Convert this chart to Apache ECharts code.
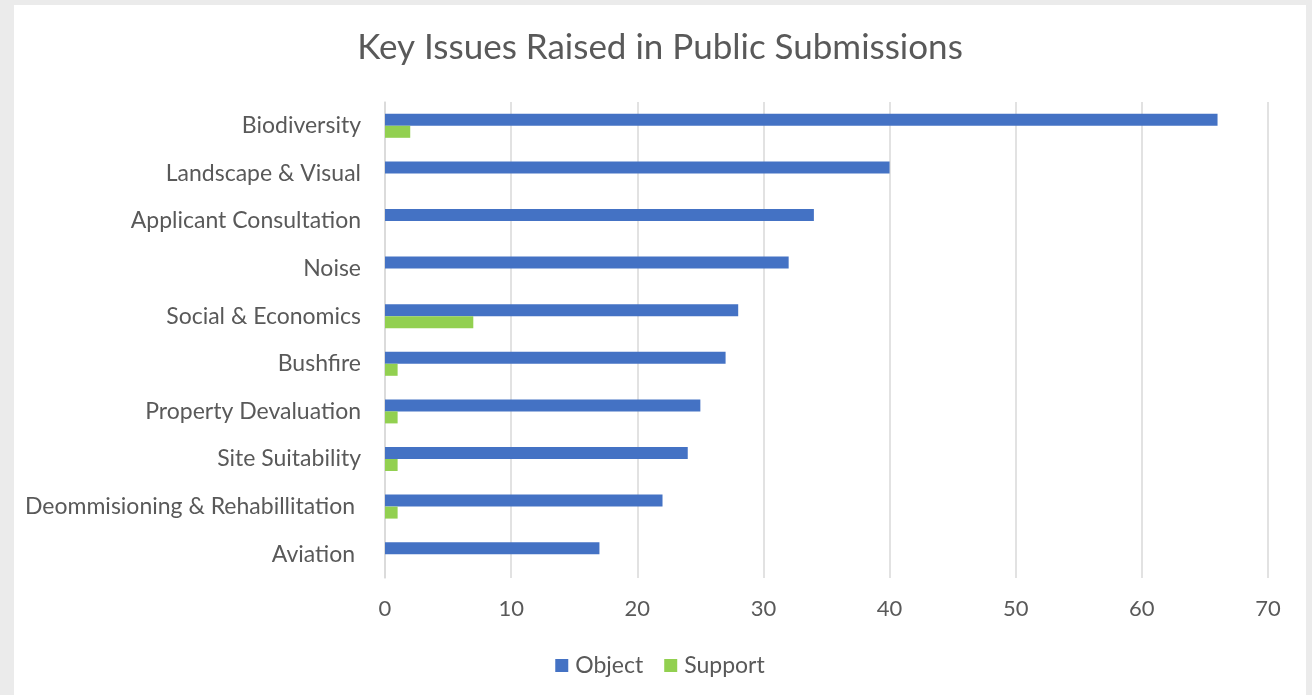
<!DOCTYPE html>
<html>
<head>
<meta charset="utf-8">
<script src="https://cdn.jsdelivr.net/npm/echarts@6/dist/echarts.min.js"></script>
<style>
html,body{margin:0;padding:0;background:#ebebeb;width:1312px;height:695px;overflow:hidden;}
#chart{position:absolute;left:14px;top:5px;width:1292px;height:690px;background:#ffffff;}
</style>
</head>
<body>
<div id="chart"></div>
<script>
const categories = ["Biodiversity","Landscape & Visual","Applicant Consultation","Noise","Social & Economics","Bushfire","Property Devaluation","Site Suitability","Deommisioning & Rehabillitation ","Aviation "];
const objectValues = [66,40,34,32,28,27,25,24,22,17];
const supportValues = [2,0,0,0,7,1,1,1,1,0];
const xTicks = [0,10,20,30,40,50,60,70];

const FONT = "Lato";
const chart = echarts.init(document.getElementById('chart'));
chart.setOption({
  backgroundColor: '#ffffff',
  animation: false,
  title: {
    text: 'Key Issues Raised in Public Submissions',
    left: 'center',
    top: 20,
    textStyle: {fontFamily: FONT, fontSize: 35, fontWeight: 'normal', color: '#595959'}
  },
  legend: {
    data: ['Object','Support'],
    bottom: 13,
    left: 'center',
    itemWidth: 13,
    itemHeight: 13,
    itemGap: 21,
    icon: 'rect',
    textStyle: {fontFamily: FONT, fontSize: 23, color: '#595959', padding: [0, 0, 0, 2]}
  },
  grid: {left: 371, right: 38, top: 97, bottom: 117, containLabel: false},
  xAxis: {
    type: 'value',
    min: xTicks[0],
    max: xTicks[xTicks.length-1],
    interval: 10,
    axisLine: {show: false},
    axisTick: {show: false},
    splitLine: {lineStyle: {color: '#d9d9d9', width: 1.5}},
    axisLabel: {fontFamily: FONT, fontSize: 22, color: '#595959', margin: 20}
  },
  yAxis: {
    type: 'category',
    inverse: true,
    data: categories,
    axisLine: {show: true, lineStyle: {color: '#d9d9d9', width: 1.5}},
    axisTick: {show: false},
    axisLabel: {fontFamily: FONT, fontSize: 23, color: '#595959', margin: 24}
  },
  series: [
    {name: 'Object', type: 'bar', data: objectValues, barWidth: 12, barGap: '0%', itemStyle: {color: '#4472C4'}},
    {name: 'Support', type: 'bar', data: supportValues, barWidth: 12, barGap: '0%', itemStyle: {color: '#92D050'}}
  ]
});
</script>
</body>
</html>
